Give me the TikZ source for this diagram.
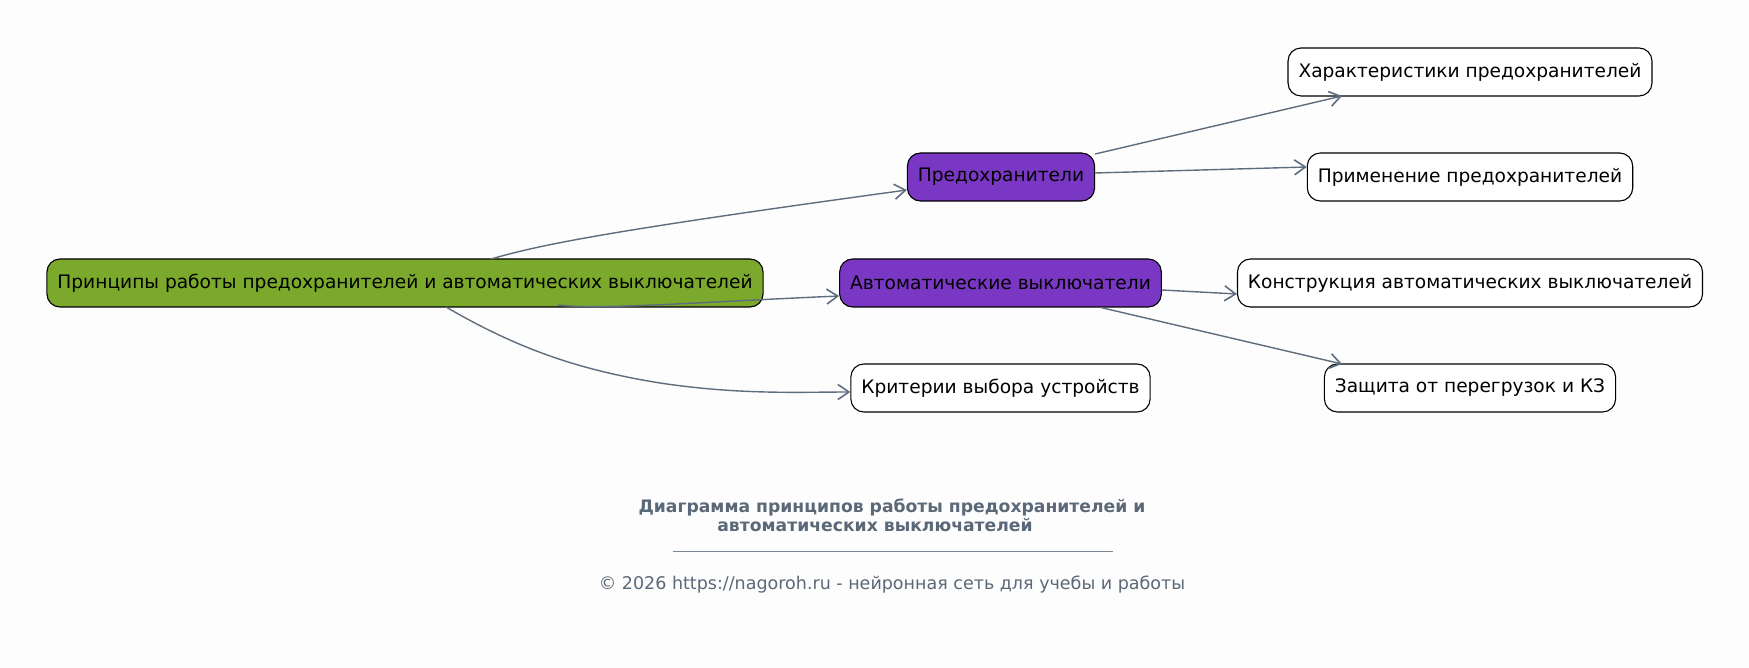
\documentclass[tikz,border=0pt]{standalone}
\usepackage{fontspec}
\setmainfont{DejaVu Sans}
\usetikzlibrary{arrows.meta}
\definecolor{bg}{HTML}{FDFDFD}
\definecolor{rootc}{HTML}{7AA92B}
\definecolor{midc}{HTML}{7A37C4}
\definecolor{edgec}{HTML}{5E6D7D}
\definecolor{titlec}{HTML}{5A6878}
\tikzset{
  box/.style={draw=black, line width=1.1pt, rounded corners=13pt, minimum height=48pt, inner xsep=10.5pt, font=\fontsize{18.6}{22}\selectfont, text=black},
  rootbox/.style={box, fill=rootc},
  midbox/.style={box, fill=midc},
  leafbox/.style={box, fill=white},
  conn/.style={draw=edgec, line width=1.4pt, -{Straight Barb[length=11pt,width=15pt,line width=1.6pt]}},
  titletext/.style={font=\bfseries\fontsize{17.2}{20}\selectfont, text=titlec},
}
\begin{document}
\begin{tikzpicture}[x=1pt,y=-1pt]
\useasboundingbox[fill=bg] (0,0) rectangle (1749,668);
\node[rootbox] (root) at (405,283) {Принципы работы предохранителей и автоматических выключателей};
\node[midbox] (fuse) at (1001,177) {Предохранители};
\node[midbox] (cb) at (1000.5,283) {Автоматические выключатели};
\node[leafbox] (crit) at (1000.5,388) {Критерии выбора устройств};
\node[leafbox] (char) at (1470,72) {Характеристики предохранителей};
\node[leafbox] (appl) at (1470,177) {Применение предохранителей};
\node[leafbox] (constr) at (1470,283) {Конструкция автоматических выключателей};
\node[leafbox] (prot) at (1470,388) {Защита от перегрузок и КЗ};
\coordinate (r1) at (491,259);
\coordinate (r2) at (558,305);
\coordinate (r3) at (446,307);
\draw[conn] (r1) .. controls (540,245) and (600,232) .. (fuse.west |- 0,190);
\draw[conn] (r2) .. controls (600,310) and (700,302) .. (cb.west |- 0,296);
\draw[conn] (r3) .. controls (520,350) and (580,370) .. (660,383) .. controls (740,395) and (800,392) .. (crit.west |- 0,392);
\draw[conn] (fuse.east |- 0,154) -- (1342,96);
\draw[conn] (fuse.east |- 0,173) -- (appl.west |- 0,167);
\draw[conn] (cb.east |- 0,290) -- (constr.west |- 0,294);
\draw[conn] (cb.south -| 1101,0) -- (1342,364);
\node[titletext] (title1) at (892,507) {Диаграмма принципов работы предохранителей и};
\node[titletext] (title2) at (875,525) {автоматических выключателей};
\draw[titlec!80, line width=0.5pt] (673,551) -- (1113,551);
\node[font=\fontsize{17.5}{20}\selectfont, text=titlec] (copy) at (892,585) {© 2026 https://nagoroh.ru - нейронная сеть для учебы и работы};
\end{tikzpicture}
\end{document}
